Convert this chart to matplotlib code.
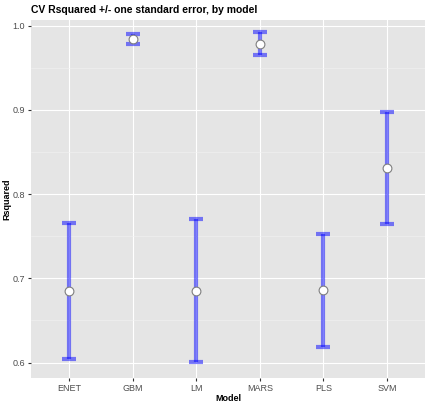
import matplotlib.pyplot as plt
from matplotlib.ticker import MultipleLocator

plt.rcParams['font.family'] = ['Liberation Sans', 'DejaVu Sans']

models = ['ENET', 'GBM', 'LM', 'MARS', 'PLS', 'SVM']
rsq_mean = [0.685, 0.984, 0.685, 0.978, 0.686, 0.831]
rsq_low = [0.604, 0.978, 0.601, 0.965, 0.619, 0.764]
rsq_high = [0.766, 0.990, 0.770, 0.992, 0.753, 0.898]

fig = plt.figure(figsize=(4.26, 4.04), dpi=100)
ax = fig.add_axes([0.073, 0.065, 0.925, 0.886])
ax.set_facecolor('#e5e5e5')

x = list(range(len(models)))
err_lo = [m - l for m, l in zip(rsq_mean, rsq_low)]
err_hi = [h - m for m, h in zip(rsq_mean, rsq_high)]
ax.errorbar(x, rsq_mean, yerr=[err_lo, err_hi], fmt='none',
            ecolor=(0.0, 0.0, 1.0, 0.5), elinewidth=3, capsize=4.7,
            capthick=3, zorder=3)
ax.scatter(x, rsq_mean, s=40, facecolor='white', edgecolor='#7f7f7f',
           linewidth=0.8, zorder=4)

ax.set_xlim(-0.6, 5.6)
ax.set_ylim(0.582, 1.007)
ax.set_xticks(x)
ax.set_xticklabels(models)
ax.yaxis.set_major_locator(MultipleLocator(0.1))
ax.yaxis.set_minor_locator(MultipleLocator(0.05))
ax.yaxis.set_major_formatter(lambda v, p: f'{v:.1f}')

ax.grid(which='major', color='white', linewidth=0.8)
ax.grid(which='minor', axis='y', color='#f2f2f2', linewidth=0.4)
ax.set_axisbelow(True)
for s in ax.spines.values():
    s.set_visible(False)
ax.tick_params(which='major', length=2.5, color='#333333', labelsize=6.5,
               labelcolor='#4d4d4d', pad=2)
ax.tick_params(which='minor', length=0)

ax.set_xlabel('Model', fontsize=6.5, fontweight='bold', labelpad=1)
ax.set_ylabel('Rsquared', fontsize=6.5, fontweight='bold')
ax.yaxis.set_label_coords(-0.05, 0.5)
fig.text(0.073, 0.975, 'CV Rsquared +/- one standard error, by model',
         fontsize=7.5, fontweight='bold', va='center', ha='left')

fig.savefig('out.png', dpi=100)
